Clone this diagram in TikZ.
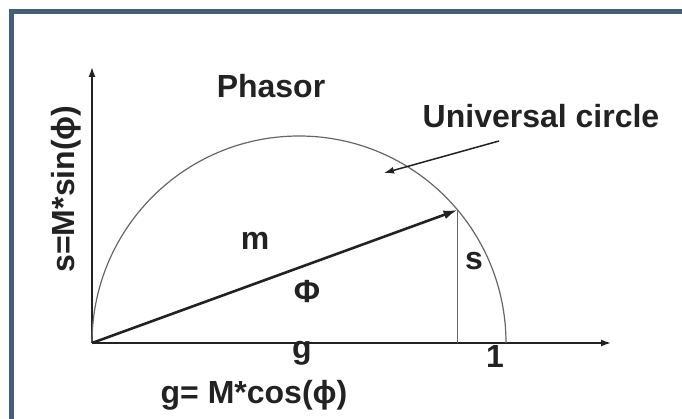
\documentclass[tikz,border=0pt]{standalone}
\usepackage{fontspec}
\setmainfont{Liberation Sans}
\usetikzlibrary{arrows.meta}
\definecolor{framecol}{HTML}{465F75}
\definecolor{inkcol}{HTML}{222222}
\definecolor{arccol}{HTML}{666666}

\begin{document}
\begin{tikzpicture}[x=1pt,y=1pt,>={Latex[length=10pt,width=7pt]},
    lbl/.style={font=\fontsize{32}{38}\selectfont\bfseries, text=inkcol, inner sep=0pt, anchor=base}]
    \useasboundingbox (0,0) rectangle (682,418);
    \clip (0,0) rectangle (682,418);
    \draw[line width=5pt, framecol] (11,406) rectangle (720,-20);
    % axes
    \coordinate (O) at (92,75);
    \coordinate (ytop) at (92,351);
    \coordinate (xend) at (611,75);
    \draw[->, inkcol, line width=1.5pt] (O)--(ytop);
    \draw[->, inkcol, line width=1.5pt] (O)--(xend);
    % universal circle and phasor
    \draw[arccol, line width=1.2pt] (O) arc (180:0:207) coordinate (one);
    \path (O) -- ++(20:389) coordinate (P);
    \coordinate (F) at (P |- O);
    \draw[arccol, line width=0.9pt] (P)--(F);
    \draw[-{Latex[length=14pt,width=9pt]}, inkcol, line width=2.6pt] (O)--(P);
    % labels
    \node[lbl] (phasor) at (271,320) {Phasor};
    \node[lbl] (uc) at (541,290) {Universal circle};
    \coordinate (ucstart) at (499,277);
    \coordinate (ucend) at (384,245);
    \draw[->, inkcol, line width=1.5pt] (ucstart)--(ucend);
    \node[lbl] (m) at (255,169) {m};
    \node[lbl] (phi) at (307,116) {Φ};
    \node[lbl] (s) at (474,149) {s};
    \node[lbl] (g) at (302,60) {g};
    \node[lbl] (unit) at (495,51) {1};
    \node[lbl] (glabel) at (254,15) {g= M*cos(ϕ)};
    \node[lbl, rotate=90] (slabel) at (74,229) {s=M*sin(ϕ)};
\end{tikzpicture}
\end{document}
